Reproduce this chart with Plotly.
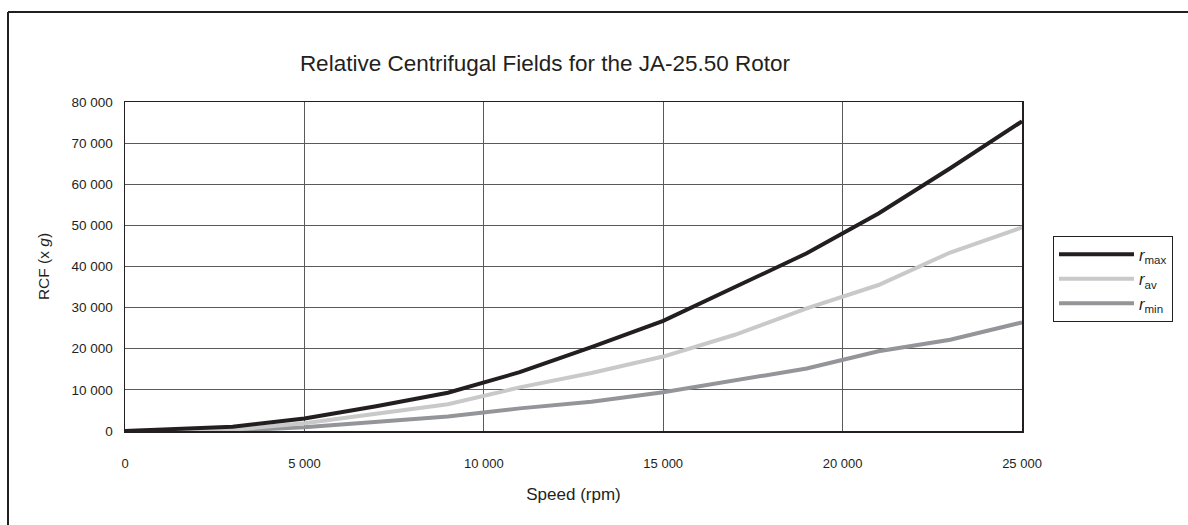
import plotly.graph_objects as go

speed = [0, 3000, 5000, 7000, 9000, 11000, 13000, 15000, 17000, 19000, 21000, 23000, 25000]
r_max = [0, 1050, 3050, 6000, 9300, 14300, 20400, 26800, 35000, 43200, 52900, 63900, 75300]
r_av = [0, 300, 1900, 4100, 6500, 10600, 14100, 18100, 23400, 29800, 35500, 43400, 49500]
r_min = [0, 100, 900, 2100, 3500, 5500, 7100, 9400, 12400, 15200, 19400, 22200, 26400]

series_names = ["<i>r</i><sub>max</sub>", "<i>r</i><sub>av</sub>", "<i>r</i><sub>min</sub>"]
series_values = [r_max, r_av, r_min]
series_colors = ["#231f20", "#c9c9c9", "#939598"]

x_ticks = [0, 5000, 10000, 15000, 20000, 25000]
y_ticks = [0, 10000, 20000, 30000, 40000, 50000, 60000, 70000, 80000]

FONT = "Liberation Sans, Arial, sans-serif"

fig = go.Figure()
# draw in reverse so black is on top, but keep legend order
order = [2, 1, 0]
for i in order:
    fig.add_trace(go.Scatter(
        x=speed, y=series_values[i], mode="lines", name=series_names[i],
        line=dict(color=series_colors[i], width=4), legendrank=i + 1,
    ))

# page margin is removed by the post script below, so the figure sits at (0, 0)
OFF = 0
W, H = 1188, 525
L, T = 125 - OFF, 102 - OFF
R = (OFF + W) - 1022
B = (OFF + H) - 431
pw, ph = W - L - R, H - T - B

fig.update_layout(
    width=W, height=H,
    margin=dict(l=L, r=R, t=T, b=B),
    paper_bgcolor="white", plot_bgcolor="white",
    hovermode=False,
    separators=". ",
    font=dict(family=FONT, color="#231f20", size=13),
    title=dict(text="Relative Centrifugal Fields for the JA-25.50 Rotor",
               font=dict(size=22.5, family=FONT, color="#231f20"),
               x=(545 - OFF) / W, xanchor="center", y=1 - (63 - OFF) / H, yanchor="middle"),
    showlegend=True,
    legend=dict(x=(1053 - 125) / pw, y=(431 - 236) / ph, xanchor="left", yanchor="top",
                bordercolor="#231f20", borderwidth=1, bgcolor="white",
                font=dict(size=16.5, family=FONT, color="#231f20"),
                tracegroupgap=0, itemwidth=75, traceorder="normal"),
    xaxis=dict(range=[0, 25000], tickvals=x_ticks, tickformat=",d",
               tickfont=dict(size=13),
               showgrid=True, gridcolor="#5a5a5a", gridwidth=1,
               showline=True, linecolor="#231f20", linewidth=1.5, mirror=True,
               zeroline=False, ticks="", ticklabelstandoff=20,
               title=dict(text="Speed (rpm)", font=dict(size=17, family=FONT), standoff=18)),
    yaxis=dict(range=[0, 80000], tickvals=y_ticks, tickformat=",d",
               tickfont=dict(size=13.5),
               showgrid=True, gridcolor="#5a5a5a", gridwidth=1,
               showline=True, linecolor="#231f20", linewidth=1.5, mirror=True,
               zeroline=False, ticks="", ticklabelstandoff=8,
               title=dict(text="RCF (x <i>g</i>)", font=dict(size=15.5, family=FONT), standoff=18)),
)

# outer frame (top and left edges; the rest runs off the page)
fx0, fy0 = 8, 12  # page px
xl = (fx0 - L) / pw
xr = (W + 60 - L) / pw
yt = (H - B - fy0) / ph
yb = (H - B - (H + 60)) / ph
frame = dict(color="#231f20", width=2)
fig.add_shape(type="line", xref="paper", yref="paper", x0=xl, x1=xr, y0=yt, y1=yt, line=frame)
fig.add_shape(type="line", xref="paper", yref="paper", x0=xl, x1=xl, y0=yt, y1=yb, line=frame)

fig.write_html(
    "out.html",
    config={"displayModeBar": False, "staticPlot": True},
    post_script="document.body.style.margin='0';document.body.style.overflow='hidden';",
)
